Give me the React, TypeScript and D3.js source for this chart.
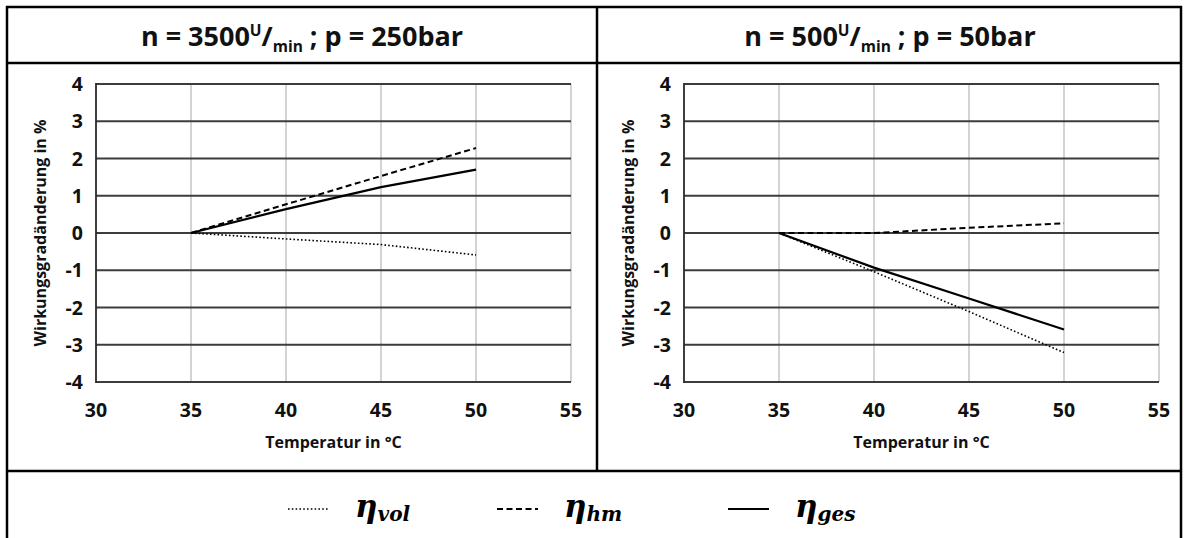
import React from "react";
import * as d3 from "d3";

const temps = [35, 40, 45, 50];
const xTicks = [30, 35, 40, 45, 50, 55];
const yTicks = [-4, -3, -2, -1, 0, 1, 2, 3, 4];

const leftVol = [0, -0.16, -0.31, -0.59];
const leftHm = [0, 0.77, 1.53, 2.28];
const leftGes = [0, 0.64, 1.23, 1.7];

const rightVol = [0, -1.04, -2.11, -3.21];
const rightHm = [0, 0.0, 0.14, 0.26];
const rightGes = [0, -0.93, -1.76, -2.59];

const panels = [
  { n: "3500", p: "250", vol: leftVol, hm: leftHm, ges: leftGes, x0: 96, x1: 571, cx: 302 },
  { n: "500", p: "50", vol: rightVol, hm: rightHm, ges: rightGes, x0: 684, x1: 1159, cx: 890 },
];

const FONT = "'Open Sans', sans-serif";
const MATH = "'DejaVu Serif', 'Liberation Serif', serif";

const styles = {
  vol: { dash: "1.6 2.2", width: 1.6 },
  hm: { dash: "6 3.5", width: 2 },
  ges: { dash: "", width: 2.2 },
};

function Panel({ cfg }: { cfg: typeof panels[number] }) {
  const x = d3.scaleLinear().domain([30, 55]).range([cfg.x0, cfg.x1]);
  const y = d3.scaleLinear().domain([-4, 4]).range([382, 84]);
  const line = d3
    .line<number>()
    .x((_, i) => x(temps[i]))
    .y((d) => y(d));
  const series: [string, number[]][] = [
    ["vol", cfg.vol],
    ["hm", cfg.hm],
    ["ges", cfg.ges],
  ];
  return (
    <g>
      {xTicks.slice(1).map((t) => (
        <line key={"v" + t} x1={x(t)} x2={x(t)} y1={y(4)} y2={y(-4)} stroke="#c4c4c4" strokeWidth={1.5} />
      ))}
      {yTicks.map((t) => (
        <line key={"h" + t} x1={x(30)} x2={x(55)} y1={y(t)} y2={y(t)} stroke="#3c3c3c" strokeWidth={1.8} />
      ))}
      <line x1={x(30)} x2={x(30)} y1={y(4) - 1} y2={y(-4) + 1} stroke="#2a2a2a" strokeWidth={1.8} />
      {yTicks.map((t) => (
        <text key={"yl" + t} x={x(30) - 13} y={y(t) + 7} textAnchor="end" fontFamily={FONT} fontWeight={700} fontSize={19.5} fill="#111">
          {t}
        </text>
      ))}
      {xTicks.map((t) => (
        <text key={"xl" + t} x={x(t)} y={417} textAnchor="middle" fontFamily={FONT} fontWeight={700} fontSize={19.5} fill="#111">
          {t}
        </text>
      ))}
      <text x={(cfg.x0 + cfg.x1) / 2} y={448} textAnchor="middle" fontFamily={FONT} fontWeight={700} fontSize={16} fill="#111">
        Temperatur in °C
      </text>
      <text
        transform={`translate(${cfg.x0 - 50},${y(0)}) rotate(-90)`}
        textAnchor="middle"
        fontFamily={FONT}
        fontWeight={700}
        fontSize={16}
        fill="#111"
      >
        Wirkungsgradänderung in %
      </text>
      {series.map(([k, vals]) => {
        const s = (styles as any)[k];
        return (
          <path key={k} d={line(vals) || ""} fill="none" stroke="#000" strokeWidth={s.width} strokeDasharray={s.dash || undefined} />
        );
      })}
      <text x={cfg.cx} y={46} textAnchor="middle" fontFamily={FONT} fontWeight={700} fontSize={27} fill="#111">
        {"n = " + cfg.n}
        <tspan fontSize={15.5} dy={-10}>U</tspan>
        <tspan dy={10}>/</tspan>
        <tspan fontSize={15.5} dy={6}>min</tspan>
        <tspan dy={-6}>{" ; p = " + cfg.p + "bar"}</tspan>
      </text>
    </g>
  );
}

const legendItems = [
  { key: "vol", label: "vol", x: 288 },
  { key: "hm", label: "hm", x: 497 },
  { key: "ges", label: "ges", x: 728 },
];

export default function App() {
  return (
    <svg width={1184} height={538} style={{ position: "absolute", left: 0, top: 0, background: "#fff" }}>
      <rect x={0} y={0} width={1184} height={538} fill="#fff" />
      {panels.map((p, i) => (
        <Panel key={i} cfg={p} />
      ))}
      <g stroke="#000" strokeWidth={2.5}>
        <line x1={6} x2={1182} y1={7} y2={7} />
        <line x1={7} x2={1182} y1={63} y2={63} />
        <line x1={7} x2={1182} y1={471} y2={471} />
        <line x1={7} x2={7} y1={6} y2={540} />
        <line x1={1181} x2={1181} y1={6} y2={540} />
        <line x1={597} x2={597} y1={6} y2={471} />
      </g>
      {legendItems.map((it) => {
        const s = (styles as any)[it.key];
        return (
          <g key={it.key}>
            <line x1={it.x} x2={it.x + 41} y1={509} y2={509} stroke="#000" strokeWidth={s.width} strokeDasharray={s.dash || undefined} />
            <text x={it.x + 67} y={517} fontFamily={MATH} fontStyle="italic" fontWeight={700} fontSize={31} fill="#000">
              η<tspan fontSize={20} dy={4}>{it.label}</tspan>
            </text>
          </g>
        );
      })}
    </svg>
  );
}
